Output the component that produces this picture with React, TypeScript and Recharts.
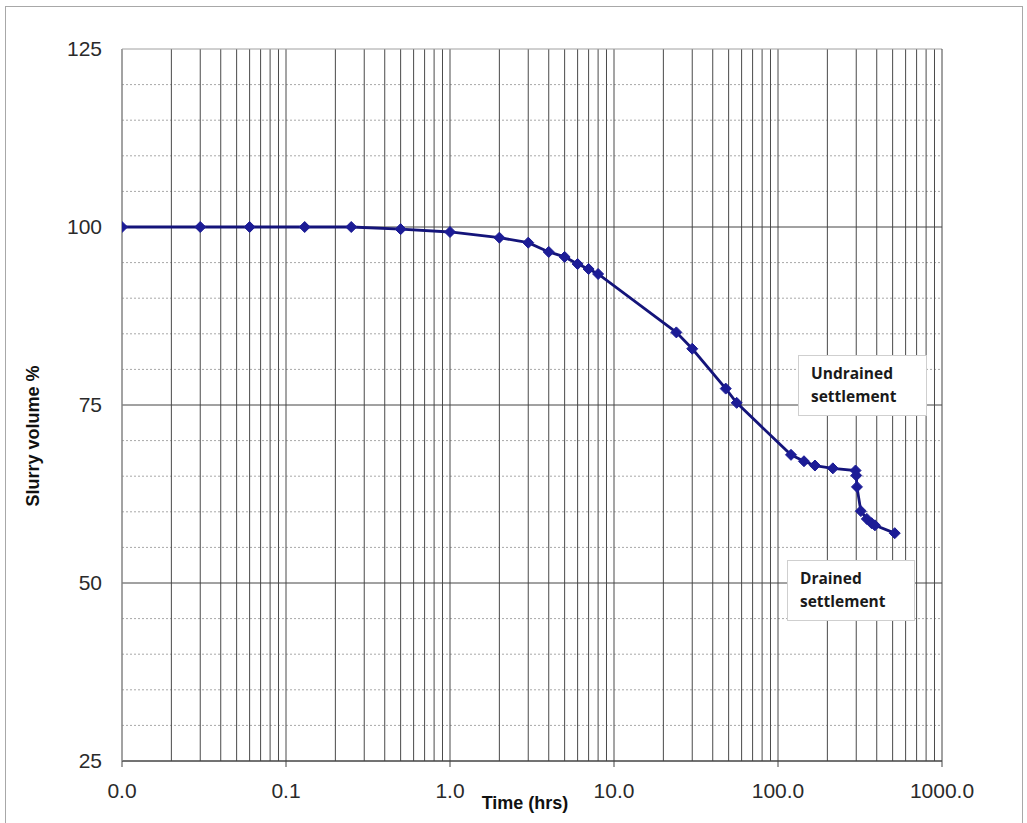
import React from 'react';
import { LineChart, Line, XAxis, YAxis, ReferenceLine, Label } from 'recharts';

// time in hours (log axis) and slurry volume in %
const hours = [0.01, 0.03, 0.06, 0.13, 0.25, 0.5, 1, 2, 3, 4, 5, 6, 7, 8, 24, 30, 48, 56, 120, 144, 168, 216, 297, 300, 303, 320, 348, 372, 390, 515];
const volume = [100, 100, 100, 100, 100, 99.7, 99.3, 98.5, 97.8, 96.5, 95.8, 94.8, 94.1, 93.4, 85.2, 82.9, 77.3, 75.3, 68.0, 67.1, 66.5, 66.1, 65.8, 65.1, 63.5, 60.1, 59.0, 58.4, 58.1, 57.0];

const xTicks = [0.01, 0.1, 1, 10, 100, 1000];
const yTicks = [25, 50, 75, 100, 125];
const yMinor = [30, 35, 40, 45, 55, 60, 65, 70, 80, 85, 90, 95, 105, 110, 115, 120];
const multipliers = [2, 3, 4, 5, 6, 7, 8, 9];

const data = hours.map((t, i) => ({ t, v: volume[i] }));

const xGrid: number[] = [];
xTicks.slice(0, -1).forEach((d) => {
  xGrid.push(d);
  multipliers.forEach((m) => xGrid.push(+(d * m).toPrecision(3)));
});

const Diamond = (props: any) => {
  const { cx, cy, index } = props;
  if (cx == null || cy == null) return null;
  const r = 5.5;
  return <path key={index} d={`M${cx},${cy - r} L${cx + r},${cy} L${cx},${cy + r} L${cx - r},${cy} Z`} fill="#1c1c96" stroke="#1c1c96" strokeWidth={1} />;
};

const boxStyle: React.CSSProperties = {
  position: 'absolute',
  background: '#fff',
  border: '1px solid #cfcfcf',
  fontFamily: '"Open Sans", sans-serif',
  fontWeight: 700,
  fontSize: 15.5,
  lineHeight: '23px',
  color: '#1a1a1a',
  padding: '6px 0 0 12px',
  boxSizing: 'border-box',
};

export default function App() {
  return (
    <div style={{ position: 'absolute', left: 0, top: 0, width: 1027, height: 823, background: '#fff', overflow: 'hidden' }}>
      <div style={{ position: 'absolute', left: 5, top: 6, width: 1016, height: 840, border: '1px solid #a8a8a8' }} />
      <LineChart
        width={1027}
        height={823}
        data={data}
        margin={{ top: 49, right: 85, left: 62, bottom: 22 }}
        style={{ position: 'absolute', left: 0, top: 0 }}
      >
        {yMinor.map((y) => (
          <ReferenceLine key={'ym' + y} y={y} stroke="#a8a8a8" strokeDasharray="2 2" />
        ))}
        {xGrid.map((x) => (
          <ReferenceLine key={'xg' + x} x={x} stroke="#4a4a4a" />
        ))}
        {yTicks.map((y) => (
          <ReferenceLine key={'yt' + y} y={y} stroke={y === 125 ? '#a0a0a0' : '#444'} />
        ))}
        <ReferenceLine x={1000} stroke="#444" />
        <XAxis
          dataKey="t"
          type="number"
          scale="log"
          domain={[0.01, 1000]}
          ticks={xTicks}
          allowDataOverflow
          tickFormatter={(v: number) => v.toFixed(1)}
          tick={{ fill: '#2a2a2a', fontSize: 21, fontFamily: 'Arial, "Liberation Sans", sans-serif' }}
          tickSize={6}
          tickMargin={16}
          stroke="#444"
          height={40}
        >
          <Label
            content={() => (
              <text x={525} y={809} textAnchor="middle" fontSize={18} fontWeight="bold" fill="#111" fontFamily='Arial, "Liberation Sans", sans-serif'>
                Time (hrs)
              </text>
            )}
          />
        </XAxis>
        <YAxis
          type="number"
          domain={[25, 125]}
          ticks={yTicks}
          tick={{ fill: '#2a2a2a', fontSize: 21, fontFamily: 'Arial, "Liberation Sans", sans-serif' }}
          tickLine={false}
          tickMargin={14}
          stroke="#a0a0a0"
          width={60}
        >
          <Label
            content={() => (
              <text x={39} y={436} textAnchor="middle" fontSize={18} fontWeight="bold" fill="#111" transform="rotate(-90 39 436)" fontFamily='Arial, "Liberation Sans", sans-serif'>
                Slurry volume %
              </text>
            )}
          />
        </YAxis>
        <Line
          type="linear"
          dataKey="v"
          stroke="#14147a"
          strokeWidth={2.8}
          dot={<Diamond />}
          activeDot={false}
          isAnimationActive={false}
        />
      </LineChart>
      <div style={{ ...boxStyle, left: 798, top: 355, width: 129, height: 61 }}>
        Undrained<br />settlement
      </div>
      <div style={{ ...boxStyle, left: 787, top: 560, width: 128, height: 61 }}>
        Drained<br />settlement
      </div>
    </div>
  );
}
